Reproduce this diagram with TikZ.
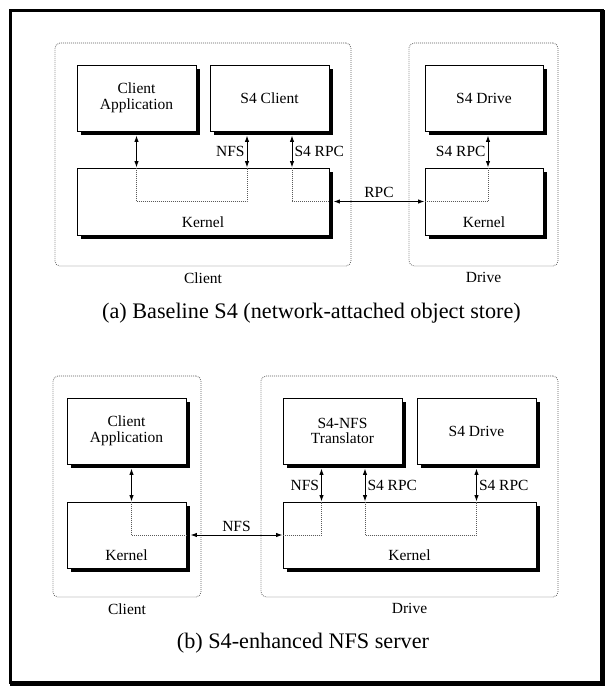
\documentclass[tikz,border=0pt]{standalone}
\usepackage{fontspec}
\setmainfont{Liberation Serif}
\usetikzlibrary{arrows.meta,positioning,calc,shadows}
\definecolor{Dots}{HTML}{5A5A5A}
\tikzset{
 machine/.style={draw=Dots,dash pattern=on .8pt off 1.2pt,line width=.8pt,rounded corners=5pt,inner sep=0pt},
 comp/.style={draw,line width=.9pt,fill=white,inner sep=0pt,align=center,font=\fontsize{15.5}{15.5}\selectfont,minimum height=66pt,drop shadow={shadow xshift=4pt,shadow yshift=-4pt,opacity=1,fill=black}},
 kernel/.style={label={[proto,anchor=base,yshift=8pt]south:Kernel}},
 link/.style={{Latex[length=6.5pt,width=4.5pt]}-{Latex[length=6.5pt,width=4.5pt]},line width=1pt},
 route/.style={draw=Dots,dash pattern=on .8pt off 1.2pt,line width=.8pt},
 proto/.style={font=\fontsize{15.5}{16}\selectfont,inner sep=2pt},
 hostname/.style={proto,label distance=4pt},
 subcap/.style={font=\fontsize{22.2}{23}\selectfont}
}
\begin{document}
\begin{tikzpicture}[x=1pt,y=-1pt]
\useasboundingbox (0,0) rectangle (605,686);
\draw[line width=3pt] (10,10) rectangle (602,682.5);
\draw[line width=4.5pt] (602.5,10) -- (602.5,683.5) -- (10,683.5);
% (a) baseline
\node[machine,minimum width=296pt,minimum height=223pt,label={[hostname]below:Client}] (clientA) at (203,154.5) {};
\node[machine,minimum width=149pt,minimum height=223pt,label={[hostname]below:Drive}] (driveA) at (483.5,154.5) {};
\node[comp,minimum width=119pt] (appA) at (136.5,98) {Client\\Application};
\node[comp,minimum width=119pt] (s4cA) at (269.5,98) {S4 Client};
\node[comp,minimum width=118pt] (s4dA) at (484,98) {S4 Drive};
\node[comp,minimum width=252pt,minimum height=67pt,kernel] (kerA) at (203,201.5) {};
\node[comp,minimum width=118pt,minimum height=67pt,kernel] (kdrA) at (484,201.5) {};
\coordinate (a1) at ([yshift=-4pt]appA.south);
\coordinate (a2) at ([xshift=-22.5pt,yshift=-4pt]s4cA.south);
\coordinate (a3) at ([xshift=22.5pt,yshift=-4pt]s4cA.south);
\coordinate (a4) at ([xshift=4pt,yshift=-4pt]s4dA.south);
\draw[link] (a1) -- (a1 |- kerA.north);
\draw[link] (a2) -- (a2 |- kerA.north) node[midway,left,proto] {NFS};
\draw[link] (a3) -- (a3 |- kerA.north) node[midway,right,proto] {S4 RPC};
\draw[link] (a4) -- (a4 |- kdrA.north) node[midway,left,proto] {S4 RPC};
\draw[link] ([xshift=4pt]kerA.east) -- (kdrA.west) node[midway,above,proto,inner sep=3pt] {RPC};
\draw[route] (a1 |- kerA.north) |- (a2 |- kerA.center) -- (a2 |- kerA.north);
\draw[route] (a3 |- kerA.north) |- (kerA.east);
\draw[route] (kdrA.west) -| (a4 |- kdrA.north);
\node[subcap] (capA) at (311.5,313) {(a) Baseline S4 (network-attached object store)};
% (b) nfs server
\node[machine,minimum width=148pt,minimum height=221pt,label={[hostname]below:Client}] (clientB) at (127,486.5) {};
\node[machine,minimum width=297pt,minimum height=221pt,label={[hostname]below:Drive}] (driveB) at (409.5,486.5) {};
\node[comp,minimum width=119pt] (appB) at (126.5,431) {Client\\Application};
\node[comp,minimum width=119pt] (trB) at (342.5,431) {S4-NFS\\Translator};
\node[comp,minimum width=119pt] (s4dB) at (476.5,431) {S4 Drive};
\node[comp,minimum width=119pt,kernel] (kerB) at (126.5,535) {};
\node[comp,minimum width=253pt,kernel] (kdrB) at (409.5,535) {};
\coordinate (b1) at ([xshift=5pt,yshift=-4pt]appB.south);
\coordinate (b2) at ([xshift=-21pt,yshift=-4pt]trB.south);
\coordinate (b3) at ([xshift=22.5pt,yshift=-4pt]trB.south);
\coordinate (b4) at ([yshift=-4pt]s4dB.south);
\draw[link] (b1) -- (b1 |- kerB.north);
\draw[link] (b2) -- (b2 |- kdrB.north) node[midway,left,proto] {NFS};
\draw[link] (b3) -- (b3 |- kdrB.north) node[midway,right,proto] {S4 RPC};
\draw[link] (b4) -- (b4 |- kdrB.north) node[midway,right,proto] {S4 RPC};
\draw[link] ([xshift=4pt]kerB.east) -- (kdrB.west) node[midway,above,proto,inner sep=3pt] {NFS};
\draw[route] (b1 |- kerB.north) |- (kerB.east);
\draw[route] (kdrB.west) -| (b2 |- kdrB.north);
\draw[route] (b3 |- kdrB.north) |- (b4 |- kdrB.center) -- (b4 |- kdrB.north);
\node[subcap] (capB) at (303,643) {(b) S4-enhanced NFS server};
\end{tikzpicture}
\end{document}
